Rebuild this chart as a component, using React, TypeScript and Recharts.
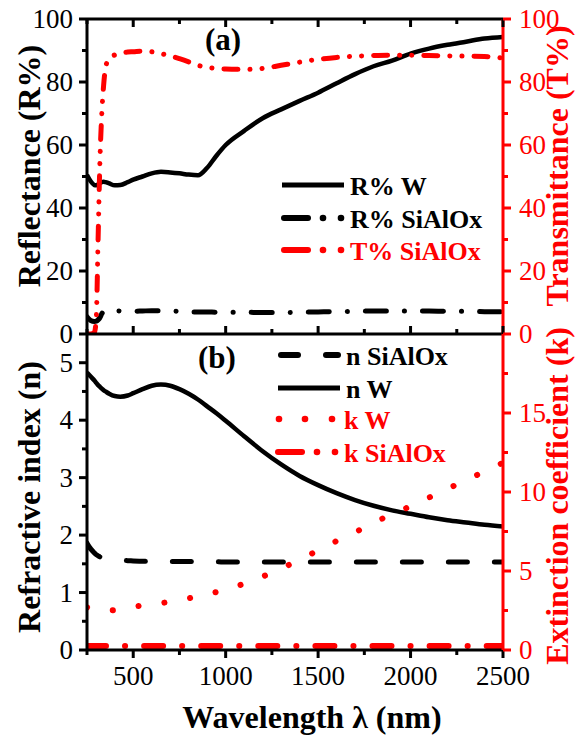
import React from 'react';
import { Line, LineChart, XAxis, YAxis } from 'recharts';

const FONT = '"Liberation Serif", "Times New Roman", serif';
const BLACK = '#000000';
const RED = '#ff0000';

// wavelength grid (nm) shared by every series
const wavelength = [
  250, 270, 290, 300, 310, 320, 330, 340, 350, 370,
  400, 430, 470, 500, 550, 600, 650, 700, 750, 800,
  850, 900, 950, 1000, 1100, 1200, 1300, 1400, 1500, 1600,
  1700, 1800, 1900, 2000, 2100, 2200, 2300, 2400, 2500,
];

// panel (a)
const reflW = [
  50.5, 48.5, 47.3, 47.2, 47.5, 47.9, 48.2, 48.3, 48.2, 47.8,
  47.2, 47.3, 48.2, 49.0, 50.0, 51.0, 51.5, 51.3, 51.0, 50.6,
  50.4, 52.8, 56.6, 60.0, 64.5, 68.5, 71.3, 74.0, 76.6, 79.6,
  82.5, 85.0, 86.8, 89.0, 90.6, 91.8, 92.8, 93.8, 94.3,
];
const reflSiAlOx = [
  5.5, 4.3, 4.0, 4.1, 4.5, 5.2, 6.4, 7.2, 7.5, 7.5,
  7.4, 7.3, 7.2, 7.2, 7.3, 7.4, 7.4, 7.3, 7.2, 7.0,
  7.0, 7.0, 6.9, 6.9, 6.9, 6.8, 6.8, 6.9, 7.0, 7.1,
  7.2, 7.3, 7.3, 7.3, 7.3, 7.2, 7.2, 7.1, 7.1,
];
const transSiAlOx = [
  0, 0, 0.5, 5, 30, 55, 70, 79, 84.5, 87.5,
  88.6, 89.2, 89.5, 89.6, 89.8, 89.6, 89.0, 88.3, 87.4, 86.4,
  85.3, 84.7, 84.3, 84.1, 84.0, 84.3, 85.3, 86.3, 87.2, 87.8,
  88.2, 88.4, 88.5, 88.5, 88.4, 88.3, 88.2, 88.1, 87.6,
];

// panel (b)
const nSiAlOx = [
  1.86, 1.76, 1.69, 1.66, 1.64, 1.62, 1.61, 1.6, 1.59, 1.58,
  1.57, 1.56, 1.555, 1.55, 1.545, 1.54, 1.54, 1.54, 1.54, 1.54,
  1.535, 1.535, 1.535, 1.53, 1.53, 1.53, 1.53, 1.53, 1.53, 1.53,
  1.53, 1.53, 1.53, 1.53, 1.53, 1.53, 1.53, 1.53, 1.53,
];
const nW = [
  4.83, 4.76, 4.69, 4.65, 4.61, 4.58, 4.55, 4.52, 4.5, 4.46,
  4.42, 4.41, 4.43, 4.47, 4.54, 4.6, 4.62, 4.6, 4.54, 4.46,
  4.36, 4.24, 4.12, 3.99, 3.72, 3.46, 3.23, 3.03, 2.87, 2.73,
  2.61, 2.51, 2.43, 2.37, 2.31, 2.26, 2.22, 2.18, 2.15,
];
const kW = [
  2.7, 2.63, 2.58, 2.56, 2.54, 2.52, 2.51, 2.5, 2.5, 2.5,
  2.52, 2.56, 2.65, 2.72, 2.82, 2.9, 2.97, 3.05, 3.15, 3.27,
  3.4, 3.53, 3.67, 3.82, 4.2, 4.65, 5.15, 5.72, 6.3, 6.9,
  7.45, 8.05, 8.6, 9.1, 9.65, 10.2, 10.75, 11.3, 11.85,
];
const kSiAlOx = [
  0.25, 0.25, 0.25, 0.25, 0.25, 0.25, 0.25, 0.25, 0.25, 0.25,
  0.25, 0.25, 0.25, 0.25, 0.25, 0.25, 0.25, 0.25, 0.25, 0.25,
  0.25, 0.25, 0.25, 0.25, 0.25, 0.25, 0.25, 0.25, 0.25, 0.25,
  0.25, 0.25, 0.25, 0.25, 0.25, 0.25, 0.25, 0.25, 0.25,
];

// ticks
const xTicks = [250, 500, 750, 1000, 1250, 1500, 1750, 2000, 2250, 2500];
const xLabels = [500, 1000, 1500, 2000, 2500];
const pctTicks = [0, 10, 20, 30, 40, 50, 60, 70, 80, 90, 100];
const pctLabels = [0, 20, 40, 60, 80, 100];
const nTicks = [0, 0.5, 1, 1.5, 2, 2.5, 3, 3.5, 4, 4.5, 5];
const nLabels = [0, 1, 2, 3, 4, 5];
const kTicks = [0, 2.5, 5, 7.5, 10, 12.5, 15, 17.5];
const kLabels = [0, 5, 10, 15];

const data = wavelength.map((wl, i) => ({
  wl,
  reflW: reflW[i],
  reflSiAlOx: reflSiAlOx[i],
  transSiAlOx: transSiAlOx[i],
  nSiAlOx: nSiAlOx[i],
  nW: nW[i],
  kW: kW[i],
  kSiAlOx: kSiAlOx[i],
}));

type Side = 'left' | 'right' | 'bottom' | 'bottomIn' | 'topIn';

// tickSize/tickMargin are 0, so x,y is the point on the axis line itself
const axisTick = (side: Side, labels: number[], color: string) => (props: any) => {
  const { x, y, payload } = props;
  const v = Number(payload.value);
  const major = labels.includes(v);
  const len = major ? 8 : 5;
  const txt = { fill: color, fontSize: 27, fontFamily: FONT };
  if (side === 'left') {
    return (
      <g>
        <line x1={x - len} y1={y} x2={x} y2={y} stroke={color} strokeWidth={3} />
        {major && <text x={x - 14} y={y + 9} textAnchor="end" {...txt}>{v}</text>}
      </g>
    );
  }
  if (side === 'right') {
    return (
      <g>
        <line x1={x} y1={y} x2={x + len} y2={y} stroke={color} strokeWidth={3} />
        {major && <text x={x + 16} y={y + 9} textAnchor="start" {...txt}>{v}</text>}
      </g>
    );
  }
  if (side === 'bottom') {
    return (
      <g>
        <line x1={x} y1={y} x2={x} y2={y + len} stroke={color} strokeWidth={3} />
        {major && <text x={x} y={y + 35} textAnchor="middle" {...txt}>{v}</text>}
      </g>
    );
  }
  const d = side === 'topIn' ? 1 : -1;
  return <line x1={x} y1={y} x2={x} y2={y + d * len} stroke={color} strokeWidth={3} />;
};

const axisCommon = {
  tickSize: 0,
  tickMargin: 0,
  tickLine: false,
  interval: 0 as const,
  allowDataOverflow: true,
};

const LegendRow = ({ x, y, tx, kind, color, label }: any) => {
  let sample: React.ReactNode = null;
  if (kind === 'solid') {
    sample = <line x1={x} y1={y} x2={x + 62} y2={y} stroke={color} strokeWidth={5} />;
  } else if (kind === 'dashDot') {
    sample = (
      <g fill={color}>
        <line x1={x + 2} y1={y} x2={x + 26} y2={y} stroke={color} strokeWidth={6} strokeLinecap="round" />
        <circle cx={x + 41} cy={y} r={3.3} />
        <circle cx={x + 59} cy={y} r={3.3} />
      </g>
    );
  } else if (kind === 'dashed') {
    sample = (
      <g stroke={color} strokeWidth={6} strokeLinecap="round">
        <line x1={x + 3} y1={y} x2={x + 20} y2={y} />
        <line x1={x + 48} y1={y} x2={x + 60} y2={y} />
      </g>
    );
  } else {
    sample = (
      <g fill={color}>
        <circle cx={x + 3} cy={y} r={3.3} />
        <circle cx={x + 29} cy={y} r={3.3} />
        <circle cx={x + 56} cy={y} r={3.3} />
      </g>
    );
  }
  return (
    <g>
      {sample}
      <text x={tx} y={y + 10} fill={color} fontSize={26} fontWeight="bold" fontFamily={FONT}>
        {label}
      </text>
    </g>
  );
};

const Overlay = () => (
  <svg
    width={576}
    height={738}
    style={{ position: 'absolute', left: 0, top: 0, pointerEvents: 'none' }}
    fontFamily={FONT}
  >
    <text x={223} y={50} textAnchor="middle" fontSize={31} fontWeight="bold">(a)</text>
    <text x={217} y={368} textAnchor="middle" fontSize={31} fontWeight="bold">(b)</text>

    <LegendRow x={282} y={185} tx={350} kind="solid" color={BLACK} label="R% W" />
    <LegendRow x={282} y={218} tx={350} kind="dashDot" color={BLACK} label="R% SiAlOx" />
    <LegendRow x={282} y={250} tx={350} kind="dashDot" color={RED} label="T% SiAlOx" />

    <LegendRow x={278} y={355} tx={346} kind="dashed" color={BLACK} label="n SiAlOx" />
    <LegendRow x={278} y={388} tx={346} kind="solid" color={BLACK} label="n W" />
    <LegendRow x={276} y={419} tx={344} kind="dots" color={RED} label="k W" />
    <LegendRow x={276} y={452} tx={344} kind="dashDot" color={RED} label="k SiAlOx" />

    <g fontSize={32} fontWeight="bold" textAnchor="middle">
      <text transform="translate(40,166) rotate(-90)" fill={BLACK}>Reflectance (R%)</text>
      <text transform="translate(40,497) rotate(-90)" fill={BLACK}>Refractive index (n)</text>
      <text transform="translate(568,166) rotate(-90)" fill={RED}>Transmittance (T%)</text>
      <text transform="translate(568,496) rotate(-90)" fill={RED}>Extinction coefficient (k)</text>
      <text x={312} y={728} fill={BLACK}>Wavelength λ (nm)</text>
    </g>
  </svg>
);

const App = () => (
  <div style={{ position: 'absolute', left: 0, top: 0, width: 576, height: 738, background: '#fff' }}>
    <div style={{ position: 'absolute', left: 0, top: 0 }}>
      <LineChart width={576} height={350} data={data} margin={{ top: 19, right: 0, bottom: 16, left: 0 }}>
        <XAxis
          xAxisId="b"
          dataKey="wl"
          type="number"
          domain={[250, 2500]}
          ticks={xTicks}
          orientation="bottom"
          mirror
          axisLine={{ stroke: BLACK, strokeWidth: 3 }}
          tick={axisTick('bottomIn', xLabels, BLACK)}
          {...axisCommon}
        />
        <XAxis
          xAxisId="t"
          dataKey="wl"
          type="number"
          domain={[250, 2500]}
          ticks={xTicks}
          orientation="top"
          mirror
          axisLine={{ stroke: BLACK, strokeWidth: 3 }}
          tick={axisTick('topIn', xLabels, BLACK)}
          {...axisCommon}
        />
        <YAxis
          yAxisId="R"
          width={87}
          domain={[0, 100]}
          ticks={pctTicks}
          axisLine={{ stroke: BLACK, strokeWidth: 3 }}
          tick={axisTick('left', pctLabels, BLACK)}
          {...axisCommon}
        />
        <YAxis
          yAxisId="T"
          orientation="right"
          width={73}
          domain={[0, 100]}
          ticks={pctTicks}
          axisLine={{ stroke: RED, strokeWidth: 3 }}
          tick={axisTick('right', pctLabels, RED)}
          {...axisCommon}
        />
        <Line xAxisId="b" yAxisId="R" type="monotone" dataKey="reflW" name="R% W" stroke={BLACK}
          strokeWidth={4.5} dot={false} activeDot={false} isAnimationActive={false} />
        <Line xAxisId="b" yAxisId="R" type="monotone" dataKey="reflSiAlOx" name="R% SiAlOx" stroke={BLACK}
          strokeWidth={5} strokeDasharray="21 18 0.1 18" strokeLinecap="round" dot={false} activeDot={false}
          isAnimationActive={false} />
        <Line xAxisId="b" yAxisId="T" type="monotone" dataKey="transSiAlOx" name="T% SiAlOx" stroke={RED}
          strokeWidth={5} strokeDasharray="14 12 0.1 12 0.1 12" strokeLinecap="round" dot={false}
          activeDot={false} isAnimationActive={false} />
      </LineChart>
    </div>

    <div style={{ position: 'absolute', left: 0, top: 334 }}>
      <LineChart width={576} height={404} data={data} margin={{ top: 0, right: 0, bottom: 0, left: 0 }}>
        <XAxis
          xAxisId="b"
          dataKey="wl"
          type="number"
          domain={[250, 2500]}
          ticks={xTicks}
          height={88}
          axisLine={{ stroke: BLACK, strokeWidth: 3 }}
          tick={axisTick('bottom', xLabels, BLACK)}
          {...axisCommon}
        />
        <YAxis
          yAxisId="n"
          width={87}
          domain={[0, 5.5]}
          ticks={nTicks}
          axisLine={{ stroke: BLACK, strokeWidth: 3 }}
          tick={axisTick('left', nLabels, BLACK)}
          {...axisCommon}
        />
        <YAxis
          yAxisId="k"
          orientation="right"
          width={73}
          domain={[0, 20]}
          ticks={kTicks}
          axisLine={{ stroke: RED, strokeWidth: 3 }}
          tick={axisTick('right', kLabels, RED)}
          {...axisCommon}
        />
        <Line xAxisId="b" yAxisId="n" type="monotone" dataKey="nSiAlOx" name="n SiAlOx" stroke={BLACK}
          strokeWidth={5} strokeDasharray="19 27" strokeLinecap="round" dot={false} activeDot={false}
          isAnimationActive={false} />
        <Line xAxisId="b" yAxisId="n" type="monotone" dataKey="nW" name="n W" stroke={BLACK}
          strokeWidth={4.5} dot={false} activeDot={false} isAnimationActive={false} />
        <Line xAxisId="b" yAxisId="k" type="monotone" dataKey="kW" name="k W" stroke={RED}
          strokeWidth={6} strokeDasharray="0.1 26" strokeLinecap="round" dot={false} activeDot={false}
          isAnimationActive={false} />
        <Line xAxisId="b" yAxisId="k" type="monotone" dataKey="kSiAlOx" name="k SiAlOx" stroke={RED}
          strokeWidth={6} strokeDasharray="19 19 0.1 19" strokeLinecap="round" dot={false} activeDot={false}
          isAnimationActive={false} />
      </LineChart>
    </div>

    <Overlay />
  </div>
);

export default App;
